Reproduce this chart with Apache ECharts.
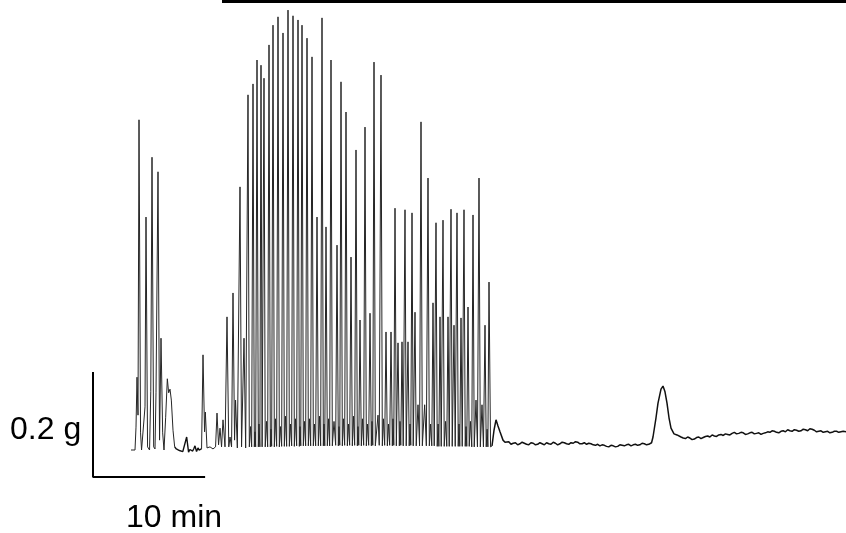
<!DOCTYPE html>
<html>
<head>
<meta charset="utf-8">
<script src="https://cdn.jsdelivr.net/npm/echarts@6/dist/echarts.min.js"></script>
<style>
  html, body { margin: 0; padding: 0; background: #fff; }
  #chart { width: 846px; height: 533px; }
</style>
</head>
<body>
<div id="chart"></div>
<script>
  // tension trace, [time (min), tension (g)]
  var burstOne = [
    [0, 0], [0.18, -0.002], [0.36, 0], [0.45, 0.044], [0.54, 0.140], [0.63, 0.067], [0.72, 0.635],
    [0.86, 0.033], [0.95, 0], [1.13, 0.002], [1.26, 0.083], [1.35, 0.448], [1.49, 0.006], [1.67, 0],
    [1.78, 0.112], [1.89, 0.563], [2.04, 0.006], [2.16, 0.002], [2.25, 0.110], [2.43, 0.535],
    [2.57, 0.019], [2.70, 0.215], [2.85, 0.033], [2.97, 0], [3.12, 0.063], [3.27, 0.137],
    [3.39, 0.110], [3.51, 0.117], [3.63, 0.096], [3.78, 0.038], [3.93, 0.006]
  ];
  var restGap = [
    [3.93, 0.006], [4.08, 0.002], [4.23, 0.004], [4.36, -0.001], [4.50, 0.002], [4.66, -0.003],
    [4.82, -0.004], [5.01, 0.025], [5.18, -0.004], [5.30, 0.001], [5.40, 0.004], [5.55, -0.002],
    [5.66, 0.003], [5.76, 0.008], [5.90, -0.003], [6.03, 0.004], [6.12, 0], [6.20, -0.002], [6.35, 0.002]
  ];
  var burstTwo = [
    [6.35, 0.002], [6.48, 0.183], [6.62, 0.035], [6.69, 0.073], [6.84, 0.004], [7.11, 0.006], [7.38, 0.002],
    [7.61, 0.006], [7.74, 0.071], [7.88, 0.010], [8.01, 0.042], [8.15, 0.006], [8.28, 0.058],
    [8.46, 0.006], [8.64, 0.256], [8.80, 0.006], [8.91, 0.025], [9.05, 0.006], [9.18, 0.302],
    [9.32, 0.019], [9.41, 0.096], [9.57, 0.004], [9.81, 0.506], [9.95, 0.006], [10.17, 0.215],
    [10.32, 0.004],
    [10.41, 0.006], [10.53, 0.683], [10.65, 0.006], [10.76, 0.045],
    [10.86, 0.006], [10.98, 0.704], [11.10, 0.006], [11.16, 0.035],
    [11.22, 0.006], [11.34, 0.750], [11.46, 0.006], [11.52, 0.050],
    [11.60, 0.006], [11.70, 0.740], [11.80, 0.006],
    [11.88, 0.007], [11.97, 0.715], [12.08, 0.006], [12.20, 0.055],
    [12.30, 0.006], [12.42, 0.779], [12.54, 0.006], [12.60, 0.040],
    [12.66, 0.007], [12.78, 0.817], [12.90, 0.006], [13.00, 0.060],
    [13.11, 0.007], [13.23, 0.833], [13.35, 0.006], [13.45, 0.045],
    [13.56, 0.007], [13.68, 0.802], [13.80, 0.007], [13.90, 0.065],
    [14.01, 0.007], [14.13, 0.846], [14.25, 0.007], [14.35, 0.050],
    [14.46, 0.008], [14.58, 0.835], [14.70, 0.007], [14.80, 0.060],
    [14.91, 0.008], [15.03, 0.827], [15.15, 0.007], [15.21, 0.045],
    [15.28, 0.008], [15.39, 0.817], [15.51, 0.008], [15.61, 0.055],
    [15.72, 0.008], [15.84, 0.792], [15.96, 0.008], [16.06, 0.060],
    [16.17, 0.008], [16.29, 0.756], [16.41, 0.008], [16.51, 0.050],
    [16.62, 0.008], [16.74, 0.448], [16.86, 0.008], [16.96, 0.065],
    [17.07, 0.008], [17.19, 0.831], [17.31, 0.008], [17.37, 0.050],
    [17.44, 0.008], [17.55, 0.429], [17.67, 0.008], [17.78, 0.060],
    [17.88, 0.008], [18.00, 0.750], [18.12, 0.008], [18.27, 0.055],
    [18.42, 0.009], [18.54, 0.394], [18.66, 0.008], [18.72, 0.045],
    [18.79, 0.009], [18.90, 0.708], [19.02, 0.008], [19.12, 0.060],
    [19.23, 0.009], [19.35, 0.650], [19.47, 0.008], [19.57, 0.050],
    [19.68, 0.009], [19.80, 0.371], [19.92, 0.008], [20.02, 0.065],
    [20.13, 0.009], [20.25, 0.577], [20.37, 0.008], [20.43, 0.045],
    [20.50, 0.009], [20.61, 0.250], [20.73, 0.008], [20.83, 0.060],
    [20.94, 0.009], [21.06, 0.621], [21.18, 0.008], [21.28, 0.050],
    [21.39, 0.009], [21.51, 0.263], [21.63, 0.008], [21.69, 0.055],
    [21.76, 0.009], [21.87, 0.746], [21.99, 0.008], [22.12, 0.009], [22.23, 0.067], [22.34, 0.009],
    [22.39, 0.009], [22.50, 0.721], [22.62, 0.008], [22.72, 0.060],
    [22.83, 0.009], [22.95, 0.227], [23.07, 0.008], [23.17, 0.050],
    [23.28, 0.009], [23.40, 0.227], [23.52, 0.008], [23.58, 0.060],
    [23.65, 0.009], [23.76, 0.465], [23.88, 0.008],
    [23.93, 0.009], [24.03, 0.206], [24.15, 0.008], [24.21, 0.055],
    [24.28, 0.009], [24.39, 0.208], [24.50, 0.008],
    [24.56, 0.009], [24.66, 0.462], [24.77, 0.008],
    [24.83, 0.009], [24.93, 0.208], [25.04, 0.008], [25.11, 0.050],
    [25.18, 0.009], [25.29, 0.456], [25.40, 0.008],
    [25.46, 0.009], [25.56, 0.265], [25.67, 0.008], [25.83, 0.087], [25.97, 0.008],
    [26.10, 0.631], [26.22, 0.008], [26.43, 0.087], [26.58, 0.008],
    [26.73, 0.523], [26.85, 0.008], [26.96, 0.050],
    [27.07, 0.008], [27.18, 0.283], [27.29, 0.008],
    [27.35, 0.008], [27.45, 0.437], [27.56, 0.007], [27.64, 0.050],
    [27.71, 0.007], [27.81, 0.256], [27.92, 0.007],
    [27.98, 0.007], [28.08, 0.442], [28.19, 0.007], [28.31, 0.055],
    [28.42, 0.007], [28.53, 0.256], [28.64, 0.007],
    [28.70, 0.007], [28.80, 0.463], [28.91, 0.007],
    [28.97, 0.007], [29.07, 0.240], [29.18, 0.007],
    [29.24, 0.007], [29.34, 0.456], [29.45, 0.007], [29.52, 0.050],
    [29.59, 0.007], [29.70, 0.254], [29.81, 0.007],
    [29.87, 0.007], [29.97, 0.462], [30.08, 0.007], [30.15, 0.045],
    [30.22, 0.007], [30.33, 0.275], [30.44, 0.007], [30.55, 0.055],
    [30.67, 0.006], [30.78, 0.452], [30.89, 0.006], [31.05, 0.096], [31.18, 0.006],
    [31.32, 0.523], [31.44, 0.006], [31.59, 0.087], [31.72, 0.006],
    [31.86, 0.240], [31.97, 0.006], [32.05, 0.040], [32.12, 0.006],
    [32.22, 0.323], [32.36, 0.006], [32.49, 0.008]
  ];
  var washout = [
    [32.49, 0.008], [32.67, 0.038], [32.85, 0.058], [33.03, 0.046], [33.21, 0.035], [33.48, 0.019],
    [33.66, 0.015], [33.84, 0.013], [34.0, 0.016], [34.2, 0.011], [34.4, 0.013], [34.6, 0.014],
    [34.8, 0.010], [35.0, 0.012], [35.2, 0.015], [35.4, 0.013], [35.6, 0.011], [35.8, 0.010],
    [36.0, 0.014], [36.2, 0.013], [36.4, 0.010], [36.6, 0.011], [36.8, 0.014], [37.0, 0.012],
    [37.2, 0.010], [37.4, 0.014], [37.6, 0.012], [37.8, 0.011], [38.0, 0.015], [38.2, 0.013],
    [38.4, 0.010], [38.6, 0.012], [38.8, 0.015], [39.0, 0.014], [39.2, 0.012], [39.4, 0.011],
    [39.6, 0.014], [39.8, 0.013], [40.0, 0.016], [40.2, 0.015], [40.4, 0.012], [40.6, 0.012],
    [40.8, 0.014], [41.0, 0.011], [41.2, 0.013], [41.4, 0.012], [41.6, 0.010], [41.8, 0.009],
    [42.0, 0.011], [42.2, 0.008], [42.4, 0.010], [42.6, 0.009], [42.8, 0.007], [43.0, 0.006],
    [43.2, 0.009], [43.4, 0.008], [43.6, 0.006], [43.8, 0.007], [44.0, 0.010], [44.2, 0.009],
    [44.4, 0.008], [44.6, 0.010], [44.8, 0.011], [45.0, 0.008], [45.2, 0.010], [45.4, 0.011],
    [45.6, 0.009], [45.8, 0.010], [46.0, 0.013], [46.2, 0.012], [46.4, 0.010], [46.6, 0.011],
    [46.85, 0.014],
    [46.98, 0.025], [47.25, 0.062], [47.43, 0.090], [47.70, 0.117], [47.88, 0.123], [48.06, 0.112],
    [48.24, 0.090], [48.42, 0.062], [48.60, 0.042], [48.87, 0.031],
    [49.14, 0.029], [49.3, 0.026], [49.5, 0.025], [49.7, 0.023], [49.9, 0.022], [50.1, 0.025],
    [50.3, 0.023], [50.5, 0.020], [50.7, 0.021], [50.9, 0.024], [51.1, 0.025], [51.3, 0.022],
    [51.5, 0.024], [51.7, 0.026], [51.9, 0.027], [52.1, 0.025], [52.3, 0.029], [52.5, 0.027],
    [52.7, 0.026], [52.9, 0.029], [53.1, 0.030], [53.3, 0.028], [53.5, 0.031], [53.7, 0.030],
    [53.9, 0.029], [54.1, 0.032], [54.3, 0.034], [54.5, 0.031], [54.7, 0.032], [54.9, 0.034],
    [55.1, 0.033], [55.3, 0.030], [55.5, 0.031], [55.7, 0.033], [55.9, 0.034], [56.1, 0.031],
    [56.3, 0.032], [56.5, 0.033], [56.7, 0.030], [56.9, 0.032], [57.1, 0.033], [57.3, 0.035],
    [57.5, 0.034], [57.7, 0.037], [57.9, 0.036], [58.1, 0.034], [58.3, 0.033], [58.5, 0.036],
    [58.7, 0.037], [58.9, 0.035], [59.1, 0.039], [59.3, 0.037], [59.5, 0.036], [59.7, 0.039],
    [59.9, 0.038], [60.1, 0.036], [60.3, 0.037], [60.5, 0.040], [60.7, 0.039], [60.9, 0.037],
    [61.1, 0.041], [61.3, 0.040], [61.5, 0.038], [61.7, 0.035], [61.9, 0.036], [62.1, 0.037],
    [62.3, 0.034], [62.5, 0.035], [62.7, 0.036], [62.9, 0.033], [63.1, 0.034], [63.3, 0.036],
    [63.5, 0.036], [63.7, 0.034], [63.9, 0.035], [64.1, 0.036], [64.35, 0.035]
  ];

  // drug application bar (min)
  var treatmentStart = 8.19;
  var treatmentEnd = 64.35;
  var treatmentLevel = 0.8635;

  // calibration bar
  var scaleMinutes = 10;
  var scaleGrams = 0.2;
  var scaleOrigin = [-3.42, -0.052];

  var chart = echarts.init(document.getElementById('chart'));

  var option = {
    backgroundColor: '#fff',
    animation: false,
    grid: {left: 0, right: 0, top: 0, height: 520},
    xAxis: {
      type: 'value',
      min: -11.79,
      max: 64.35,
      show: false
    },
    yAxis: {
      type: 'value',
      min: -0.1346,
      max: 0.8654,
      show: false
    },
    series: [{
      name: 'burst',
      type: 'line',
      data: burstOne.concat(burstTwo.slice(0, 0)),
      showSymbol: false,
      silent: true,
      lineStyle: {color: '#262626', width: 1}
    }, {
      name: 'rest',
      type: 'line',
      data: restGap,
      showSymbol: false,
      silent: true,
      lineStyle: {color: '#111', width: 1.4}
    }, {
      name: 'burst2',
      type: 'line',
      data: burstTwo,
      showSymbol: false,
      silent: true,
      lineStyle: {color: '#262626', width: 1}
    }, {
      name: 'washout',
      type: 'line',
      data: washout,
      showSymbol: false,
      silent: true,
      lineStyle: {color: '#111', width: 1.5}
    }, {
      name: 'treatment',
      type: 'line',
      data: [[treatmentStart, treatmentLevel], [treatmentEnd, treatmentLevel]],
      showSymbol: false,
      silent: true,
      lineStyle: {color: '#000', width: 4}
    }, {
      name: 'scale',
      type: 'line',
      data: [
        [scaleOrigin[0], scaleOrigin[1] + scaleGrams],
        [scaleOrigin[0], scaleOrigin[1]],
        [scaleOrigin[0] + scaleMinutes, scaleOrigin[1]]
      ],
      showSymbol: false,
      silent: true,
      lineStyle: {color: '#000', width: 2, cap: 'square'}
    }],
    graphic: [{
      type: 'text',
      left: 10,
      top: 414,
      style: {text: scaleGrams + ' g', font: '32px "Liberation Sans", Arial, sans-serif', fill: '#000'}
    }, {
      type: 'text',
      left: 126,
      top: 502,
      style: {text: scaleMinutes + ' min', font: '32px "Liberation Sans", Arial, sans-serif', fill: '#000'}
    }]
  };
  chart.setOption(option);
</script>
</body>
</html>
